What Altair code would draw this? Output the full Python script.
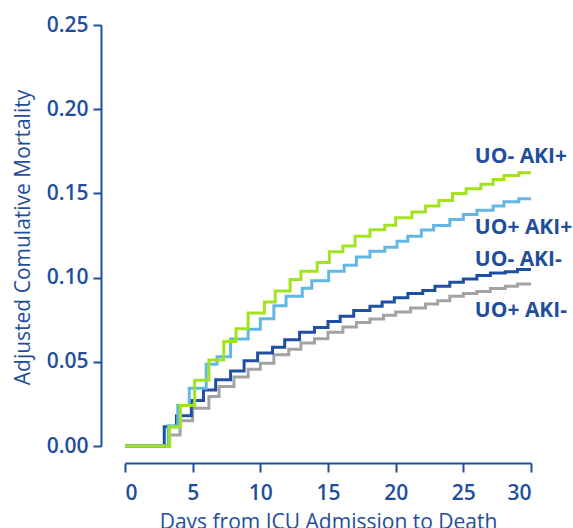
import altair as alt
import pandas as pd

# ---- data ----
series_names = ["UO+ AKI-", "UO- AKI-", "UO+ AKI+", "UO- AKI+"]
series_colors = ["#a3a3a3", "#1f4fa3", "#62b8e3", "#a2e31f"]

days_uop_akin = [0, 3.3, 4.07, 5.0, 6.2, 6.95, 8.05, 9.1, 10.0, 11.0, 12.1, 13.0, 14.0, 15.0, 16.1,
                 17.1, 18.1, 19.1, 20.0, 21.1, 22.2, 23.1, 24.0, 25.0, 26.0, 27.0, 28.1, 29.0, 30]
vals_uop_akin = [0, 0.0065, 0.015, 0.0224, 0.0294, 0.0353, 0.041, 0.0456, 0.0492, 0.0542, 0.0575,
                 0.0611, 0.0637, 0.0675, 0.0706, 0.0734, 0.0754, 0.0776, 0.0796, 0.082, 0.0843,
                 0.0863, 0.0889, 0.0905, 0.0918, 0.0936, 0.0948, 0.0962, 0.0962]

days_uon_akin = [0, 2.9, 3.8, 4.9, 5.8, 6.7, 7.8, 8.8, 9.8, 10.9, 11.8, 12.9, 14.0, 15.0, 15.9,
                 16.9, 18.1, 19.0, 19.9, 20.9, 22.0, 22.9, 24.0, 25.0, 26.0, 27.0, 28.1, 29.0, 30]
vals_uon_akin = [0, 0.0115, 0.0179, 0.027, 0.0333, 0.0393, 0.0446, 0.0506, 0.0552, 0.0587, 0.0631,
                 0.0675, 0.0704, 0.074, 0.077, 0.0805, 0.083, 0.0855, 0.088, 0.0905, 0.0923,
                 0.0948, 0.0972, 0.0992, 0.1012, 0.1028, 0.1035, 0.1048, 0.1048]

days_uop_akip = [0, 3.2, 3.9, 4.75, 6.0, 6.8, 7.8, 9.1, 10.0, 11.0, 11.9, 13.1, 13.8, 15.05, 16.2,
                 17.1, 18.1, 19.2, 20.1, 20.9, 21.9, 22.8, 24.0, 25.0, 26.0, 27.2, 28.0, 29.1, 30]
vals_uop_akip = [0, 0.012, 0.024, 0.0343, 0.0486, 0.053, 0.0635, 0.0694, 0.0756, 0.0833, 0.0889,
                 0.0937, 0.0982, 0.1038, 0.1073, 0.1123, 0.1157, 0.118, 0.1216, 0.1246, 0.1282,
                 0.131, 0.1345, 0.1375, 0.14, 0.1425, 0.145, 0.1468, 0.1468]

days_uon_akip = [0, 3.3, 4.1, 5.15, 6.2, 7.3, 8.2, 9.1, 10.3, 11.1, 12.2, 13.0, 14.2, 15.1, 16.1,
                 17.0, 18.1, 19.2, 20.0, 21.2, 22.2, 23.2, 24.2, 25.2, 26.3, 27.2, 28.0, 29.1, 30]
vals_uon_akip = [0, 0.0115, 0.024, 0.039, 0.051, 0.062, 0.0696, 0.079, 0.0855, 0.092, 0.0988,
                 0.1038, 0.109, 0.1153, 0.1187, 0.1246, 0.1284, 0.1311, 0.1355, 0.139, 0.1425,
                 0.1458, 0.15, 0.1528, 0.1554, 0.1583, 0.1607, 0.1623, 0.1623]

label_texts = ["UO- AKI+", "UO+ AKI+", "UO- AKI-", "UO+ AKI-"]
label_days = [25.85, 25.85, 25.85, 25.85]
label_vals = [0.1716, 0.1295, 0.1105, 0.0802]

x_ticks = [0, 5, 10, 15, 20, 25, 30]
y_ticks = [0.0, 0.05, 0.10, 0.15, 0.20, 0.25]

AXIS_COLOR = "#1f4e9c"
FONT = "Open Sans"

all_days = [days_uop_akin, days_uon_akin, days_uop_akip, days_uon_akip]
all_vals = [vals_uop_akin, vals_uon_akin, vals_uop_akip, vals_uon_akip]

x_scale = alt.Scale(domain=[0, 30], nice=False, zero=False)
y_scale = alt.Scale(domain=[0, 0.25], nice=False)

x_axis = alt.Axis(values=x_ticks, offset=17, grid=False, tickSize=9, labelFontSize=21,
                  labelFontWeight=600, labelPadding=10, titleFontSize=21, titleFontWeight="normal",
                  titlePadding=8, domainWidth=2, tickWidth=2)
y_axis = alt.Axis(values=y_ticks, format=".2f", offset=24, grid=False, tickSize=8,
                  labelFontSize=21, labelFontWeight=600, labelPadding=5, titleFontSize=21,
                  titleFontWeight="normal", titleX=-68, titleY=212, domainWidth=2, tickWidth=2)

X_TITLE = "Days from ICU Admission to Death"
Y_TITLE = "Adjusted Comulative Mortality"

layers = []
for i, name in enumerate(series_names):
    df = pd.DataFrame({"day": all_days[i], "val": all_vals[i], "series": name})
    ch = alt.Chart(df).mark_line(interpolate="step-after", strokeWidth=3,
                                 color=series_colors[i]).encode(
        x=alt.X("day:Q", scale=x_scale, axis=x_axis, title=X_TITLE),
        y=alt.Y("val:Q", scale=y_scale, axis=y_axis, title=Y_TITLE),
    )
    layers.append(ch)

lab_df = pd.DataFrame({"label": label_texts, "day": label_days, "val": label_vals})
labels = alt.Chart(lab_df).mark_text(align="left", baseline="middle", fontSize=21,
                                     fontWeight="bold", font=FONT, color=AXIS_COLOR).encode(
    x=alt.X("day:Q", scale=x_scale, axis=x_axis, title=X_TITLE),
    y=alt.Y("val:Q", scale=y_scale, axis=y_axis, title=Y_TITLE),
    text="label:N",
)
layers.append(labels)

chart = alt.layer(*layers).properties(
    width=406, height=421,
    autosize=alt.AutoSizeParams(type="none"),
    padding={"left": 125, "top": 25, "right": 42, "bottom": 82},
).configure_view(stroke=None).configure_axis(
    domainColor=AXIS_COLOR, tickColor=AXIS_COLOR, labelColor=AXIS_COLOR,
    titleColor=AXIS_COLOR, labelFont=FONT, titleFont=FONT,
)

chart.save("out.html", embed_options={"renderer": "svg", "actions": False})
